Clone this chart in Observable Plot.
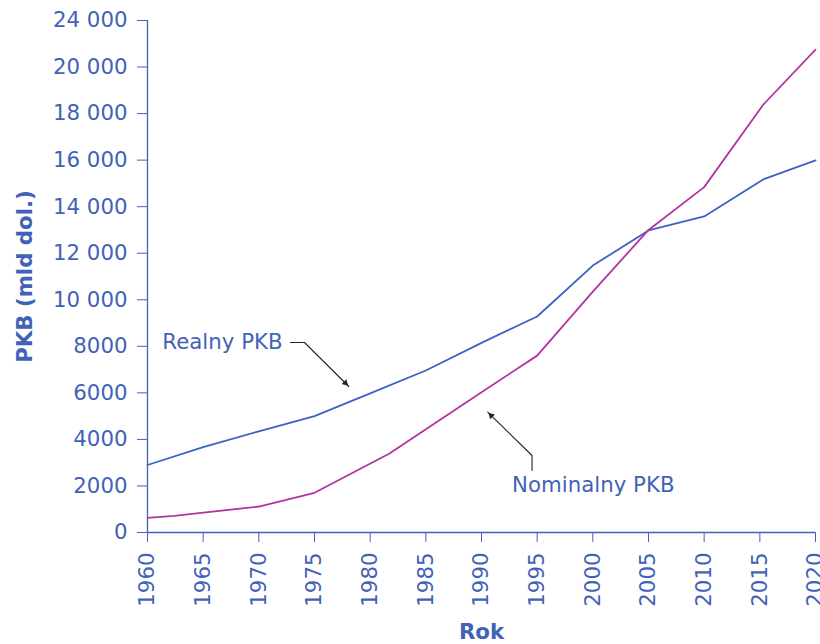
<!DOCTYPE html>
<html>
<head>
<meta charset="utf-8">
<script src="https://cdn.jsdelivr.net/npm/d3@7"></script>
<script src="https://cdn.jsdelivr.net/npm/@observablehq/plot@0.6"></script>
<style>
  html, body { margin: 0; padding: 0; background: #fff; }
  #chart { width: 820px; height: 644px; }
</style>
</head>
<body>
<div id="chart"></div>
<script>
// Real GDP (blue)
const realYears  = [1960, 1965, 1970, 1975, 1980, 1985, 1990, 1995, 2000, 2005, 2010, 2015.3, 2020];
const realValues = [2900, 3670, 4350, 5000, 5980, 6960, 8150, 9280, 11470, 12980, 13580, 15170, 15990];

// Nominal GDP (magenta)
const nomYears  = [1960, 1962.4, 1970, 1975, 1981.7, 1990, 1995, 2000, 2005, 2010, 2015.3, 2020];
const nomValues = [632, 718, 1117, 1706, 3382, 6030, 7600, 10350, 13000, 14840, 18380, 20750];

// Axis ticks
const xTicks = [1960, 1965, 1970, 1975, 1980, 1985, 1990, 1995, 2000, 2005, 2010, 2015, 2020];
const yTicks = [0, 2000, 4000, 6000, 8000, 10000, 12000, 14000, 16000, 18000, 20000, 22000];
const yTickLabels = ["0", "2000", "4000", "6000", "8000", "10 000", "12 000", "14 000", "16 000", "18 000", "20 000", "24 000"];

// Annotations (data coordinates)
const labelTexts = ["Realny PKB", "Nominalny PKB"];
const labelYears = [1972.13, 1992.75];
const labelValues = [8164, 2020];
const realArrowYears  = [1972.84, 1974.1, 1978.08];
const realArrowValues = [8164, 8164, 6273];
const nomArrowYears  = [1994.54, 1994.54, 1990.56];
const nomArrowValues = [2664, 3309, 5169];

const AXIS = "#4262b8";
const BLUE = "#3c62c3";
const MAGENTA = "#b2359f";
const FS = 21.3;

const real = realYears.map((y, i) => ({year: y, value: realValues[i]}));
const nom = nomYears.map((y, i) => ({year: y, value: nomValues[i]}));
const realArrow = realArrowYears.map((y, i) => ({year: y, value: realArrowValues[i]}));
const nomArrow = nomArrowYears.map((y, i) => ({year: y, value: nomArrowValues[i]}));
const labels = labelTexts.map((t, i) => ({text: t, year: labelYears[i], value: labelValues[i]}));

const chart = Plot.plot({
  width: 820,
  height: 644,
  marginLeft: 147,
  marginRight: 5,
  marginTop: 20,
  marginBottom: 112,
  style: {fontFamily: "DejaVu Sans", fontSize: FS + "px", color: AXIS, background: "#fff", overflow: "hidden"},
  x: {domain: [1960, 2020]},
  y: {domain: [0, 22000]},
  marks: [
    Plot.axisX({ticks: xTicks, tickFormat: d => String(d), tickSize: 10, tickPadding: 10, tickRotate: -90, label: null, stroke: AXIS, fill: AXIS}),
    Plot.axisY({ticks: yTicks, tickFormat: (d, i) => yTickLabels[i], tickSize: 10, tickPadding: 10, label: null, stroke: AXIS, fill: AXIS}),
    Plot.ruleX([1960], {stroke: AXIS, strokeWidth: 1.3}),
    Plot.ruleY([0], {stroke: AXIS, strokeWidth: 1.3}),
    Plot.line(real, {x: "year", y: "value", stroke: BLUE, strokeWidth: 1.8}),
    Plot.line(nom, {x: "year", y: "value", stroke: MAGENTA, strokeWidth: 1.8}),
    Plot.line(realArrow, {x: "year", y: "value", stroke: "#222", strokeWidth: 1.1}),
    Plot.line(nomArrow, {x: "year", y: "value", stroke: "#222", strokeWidth: 1.1}),
    Plot.dot([realArrow[2]], {x: "year", y: "value", symbol: "triangle2", r: 3.2, fill: "#222", rotate: 135, dx: -3.4, dy: -3.4}),
    Plot.dot([nomArrow[2]], {x: "year", y: "value", symbol: "triangle2", r: 3.2, fill: "#222", rotate: -45, dx: 3.4, dy: 3.4}),
    Plot.text([labels[0]], {x: "year", y: "value", text: "text", textAnchor: "end", lineAnchor: "middle", fill: AXIS, fontSize: FS}),
    Plot.text([labels[1]], {x: "year", y: "value", text: "text", textAnchor: "start", lineAnchor: "middle", fill: AXIS, fontSize: FS}),
    Plot.text(["PKB (mld dol.)"], {frameAnchor: "left", dx: -122, rotate: -90, textAnchor: "middle", lineAnchor: "middle", fill: AXIS, fontWeight: "bold", fontSize: FS}),
    Plot.text(["Rok"], {frameAnchor: "bottom", dy: 100, textAnchor: "middle", lineAnchor: "middle", fill: AXIS, fontWeight: "bold", fontSize: FS})
  ]
});
document.getElementById("chart").appendChild(chart);
</script>
</body>
</html>
